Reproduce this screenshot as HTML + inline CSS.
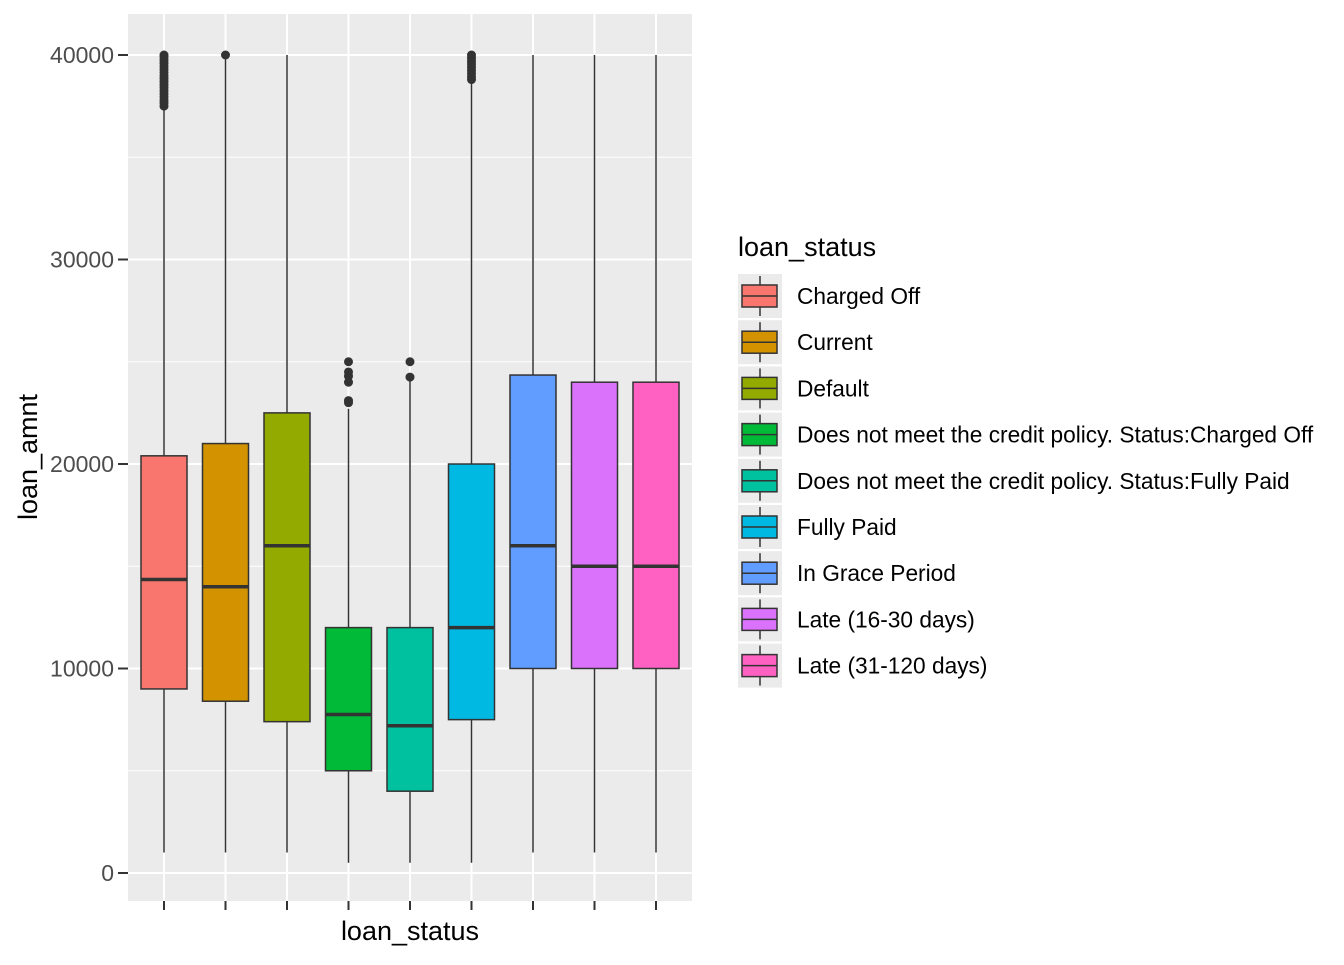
<!DOCTYPE html>
<html><head><meta charset="utf-8"><style>
body{margin:0;background:#fff;font-family:"Liberation Sans",Arial,sans-serif}
</style></head><body>
<svg id="chart" width="1344" height="960" xmlns="http://www.w3.org/2000/svg" font-family="Liberation Sans, Arial, sans-serif">
<rect x="128" y="14" width="564" height="887" fill="#EBEBEB"/>
<g id="grid"></g><g id="boxes"></g><g id="axes"></g><g id="legend"></g>
<text transform="translate(37,457) rotate(-90)" text-anchor="middle" font-size="27" fill="#000">loan_amnt</text>
<text x="410" y="940" text-anchor="middle" font-size="27" fill="#000">loan_status</text>
<text x="738" y="256" font-size="27" fill="#000">loan_status</text>
</svg>
<script>
const categories=["Charged Off","Current","Default","Does not meet the credit policy. Status:Charged Off","Does not meet the credit policy. Status:Fully Paid","Fully Paid","In Grace Period","Late (16-30 days)","Late (31-120 days)"];
const colors=["#F8766D","#D39200","#93AA00","#00BA38","#00C19F","#00B9E3","#619CFF","#DB72FB","#FF61C3"];
const lowWhisker=[1000,1000,1000,500,500,500,1000,1000,1000];
const q1=[9000,8400,7400,5000,4000,7500,10000,10000,10000];
const medians=[14350,14000,16000,7750,7200,12000,16000,15000,15000];
const q3=[20400,21000,22500,12000,12000,20000,24350,24000,24000];
const highWhisker=[37400,39800,40000,22700,24200,38700,40000,40000,40000];
const outliers=[[37500,37650,37800,37950,38100,38250,38400,38550,38700,38850,39000,39150,39300,39450,39600,39750,39900,40000],[40000],[],[23000,23100,24000,24300,24500,25000],[24250,25000],[38800,38950,39100,39250,39400,39550,39700,39850,40000],[],[],[]];
const yTicks=[0,10000,20000,30000,40000];
const yMinor=[5000,15000,25000,35000];
const NS="http://www.w3.org/2000/svg";
const y=v=>873-v*(818/40000);
const x=i=>164+i*61.5;
function mk(t,a,p){const e=document.createElementNS(NS,t);for(const k in a)e.setAttribute(k,a[k]);p.appendChild(e);return e;}
const grid=document.getElementById('grid'),boxes=document.getElementById('boxes'),axes=document.getElementById('axes'),legend=document.getElementById('legend');
yMinor.forEach(v=>{const l=mk('line',{x1:128,x2:692,y1:y(v),y2:y(v),stroke:'#fff','stroke-width':1},grid);

});
yTicks.forEach(v=>{const l=mk('line',{x1:128,x2:692,y1:y(v),y2:y(v),stroke:'#fff','stroke-width':2},grid);


const t=mk('line',{x1:118,x2:128,y1:y(v),y2:y(v),stroke:'#333','stroke-width':2},axes);


const tx=mk('text',{x:114,y:y(v)+8,'text-anchor':'end','font-size':23,fill:'#4D4D4D'},axes);tx.textContent=v;

});
categories.forEach((c,i)=>{const cx=x(i);
const g=mk('line',{x1:cx,x2:cx,y1:14,y2:901,stroke:'#fff','stroke-width':2},grid);


const t=mk('line',{x1:cx,x2:cx,y1:901,y2:910,stroke:'#333','stroke-width':2},axes);


const gb=mk('g',{},boxes);


mk('line',{x1:cx,x2:cx,y1:y(lowWhisker[i]),y2:y(q1[i]),stroke:'#333','stroke-width':1.5},gb);
mk('line',{x1:cx,x2:cx,y1:y(q3[i]),y2:y(highWhisker[i]),stroke:'#333','stroke-width':1.5},gb);
mk('rect',{x:cx-23,y:y(q3[i]),width:46,height:y(q1[i])-y(q3[i]),fill:colors[i],stroke:'#333','stroke-width':1.5},gb);
mk('line',{x1:cx-23,x2:cx+23,y1:y(medians[i]),y2:y(medians[i]),stroke:'#333','stroke-width':3.5},gb);
outliers[i].forEach(o=>{const d=mk('circle',{cx:cx,cy:y(o),r:4.5,fill:'#333'},gb);

});
const ly=296+i*46.2;
const lk=mk('g',{},legend);


mk('rect',{x:738,y:ly-22,width:44,height:44,fill:'#EBEBEB'},lk);
mk('line',{x1:760,x2:760,y1:ly-20,y2:ly+20,stroke:'#333','stroke-width':1.5},lk);
mk('rect',{x:742,y:ly-11,width:35,height:22,fill:colors[i],stroke:'#333','stroke-width':1.5},lk);
mk('line',{x1:742,x2:777,y1:ly,y2:ly,stroke:'#333','stroke-width':1.5},lk);
const lt=mk('text',{x:797,y:ly+8,'font-size':22.7,fill:'#000'},lk);lt.textContent=c;
});
</script>
</body></html>
